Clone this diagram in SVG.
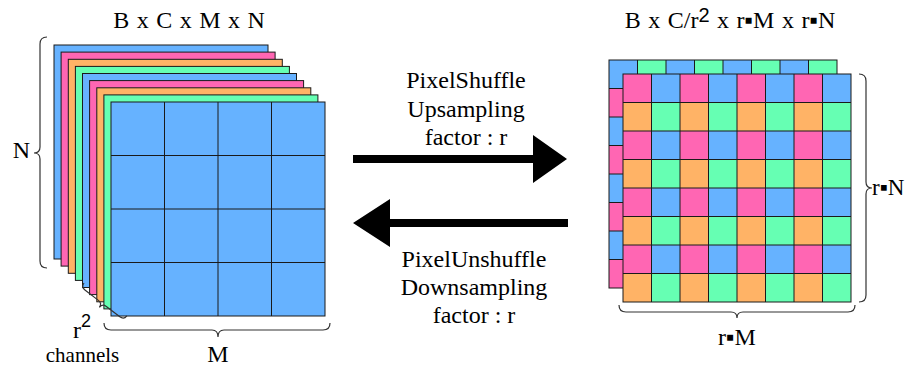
<svg xmlns="http://www.w3.org/2000/svg" width="908" height="366" viewBox="0 0 908 366">
  <style>
    .bl { fill: #66B2FF; }
    .pk { fill: #FF66B3; }
    .or { fill: #FFB366; }
    .gr { fill: #66FFB3; }
    .layer { stroke: #1a1a1a; stroke-width: 1; }
    .grid { fill: none; stroke: #1a1a1a; stroke-width: 1; }
    .brace { fill: none; stroke: #333; stroke-width: 1.2; }
    text { font-family: 'Liberation Serif', 'DejaVu Serif', 'Times New Roman', serif; fill: #000; }
    .sans { font-family: 'Liberation Sans', Arial, sans-serif; }
    .title { font-size: 24px; word-spacing: 1.5px; }
    .arrow { fill: #000; }
  </style>
  <defs>
    <!-- 2x2 checker tiles for the upsampled feature maps -->
    <pattern id="frontTile" patternUnits="userSpaceOnUse" x="623" y="74" width="57" height="57">
      <rect class="pk" x="0" y="0" width="28.5" height="28.5"/>
      <rect class="bl" x="28.5" y="0" width="28.5" height="28.5"/>
      <rect class="or" x="0" y="28.5" width="28.5" height="28.5"/>
      <rect class="gr" x="28.5" y="28.5" width="28.5" height="28.5"/>
    </pattern>
    <pattern id="backTile" patternUnits="userSpaceOnUse" x="609" y="60" width="57" height="57">
      <rect class="bl" x="0" y="0" width="28.5" height="28.5"/>
      <rect class="gr" x="28.5" y="0" width="28.5" height="28.5"/>
      <rect class="pk" x="0" y="28.5" width="28.5" height="28.5"/>
      <rect class="or" x="28.5" y="28.5" width="28.5" height="28.5"/>
    </pattern>
  </defs>

  <!-- input tensor: r^2 stacked channels of size M x N -->
  <g id="input-stack">
    <rect class="bl layer" x="54" y="45" width="214" height="214"/>
    <rect class="pk layer" x="61.1" y="52.1" width="214" height="214"/>
    <rect class="or layer" x="68.3" y="59.3" width="214" height="214"/>
    <rect class="gr layer" x="75.4" y="66.4" width="214" height="214"/>
    <rect class="bl layer" x="82.5" y="73.5" width="214" height="214"/>
    <rect class="pk layer" x="89.6" y="80.6" width="214" height="214"/>
    <rect class="or layer" x="96.8" y="87.8" width="214" height="214"/>
    <rect class="gr layer" x="103.9" y="94.9" width="214" height="214"/>
    <rect class="bl layer" x="111" y="102" width="214" height="214"/>
    <path class="grid" d="M164.5,102V316M218,102V316M271.5,102V316M111,155.5H325M111,209H325M111,262.5H325"/>
  </g>

  <!-- output tensor: one channel group of size rM x rN -->
  <g id="output-grid">
    <rect x="609" y="60" width="228" height="228" fill="url(#backTile)" class="layer"/>
    <path class="grid" d="M637.5,60V288M666,60V288M694.5,60V288M723,60V288M751.5,60V288M780,60V288M808.5,60V288M609,88.5H837M609,117H837M609,145.5H837M609,174H837M609,202.5H837M609,231H837M609,259.5H837"/>
    <rect x="623" y="74" width="228" height="228" fill="url(#frontTile)" class="layer"/>
    <path class="grid" d="M651.5,74V302M680,74V302M708.5,74V302M737,74V302M765.5,74V302M794,74V302M822.5,74V302M623,102.5H851M623,131H851M623,159.5H851M623,188H851M623,216.5H851M623,245H851M623,273.5H851"/>
  </g>

  <!-- dimension braces -->
  <g id="braces">
    <path class="brace" d="M47,37Q40,37 40,44L40,147Q40,153 34,153Q40,153 40,159L40,261Q40,268 47,268"/>
    <path class="brace" d="M104,323Q104,330 111,330L212,330Q218,330 218,337Q218,330 224,330L323,330Q330,330 330,323"/>
    <path class="brace" transform="translate(84,283) rotate(37.5)" d="M0,0Q0,5 5,5L22,5Q27,5 27,10Q27,5 32,5L49,5Q54,5 54,0"/>
    <path class="brace" d="M859,74Q866,74 866,81L866,182Q866,188 872,188Q866,188 866,194L866,295Q866,302 859,302"/>
    <path class="brace" d="M619,305Q619,312 626,312L731,312Q737,312 737,318Q737,312 743,312L848,312Q855,312 855,305"/>
  </g>

  <!-- transform arrows -->
  <g id="connectors">
    <path id="shuffle-arrow" class="arrow" d="M353,155L533,155L533,135L567,159L533,183L533,163L353,163Z"/>
    <path id="unshuffle-arrow" class="arrow" d="M568,219L390,219L390,199L353,223L390,247L390,227L568,227Z"/>
  </g>

  <!-- labels -->
  <g id="labels">
    <text class="title" x="189" y="28" text-anchor="middle">B x C x M x N</text>
    <text class="title" x="730" y="28" text-anchor="middle">B x C/r<tspan class="sans" font-size="20" dy="-6">2</tspan><tspan dy="6"> x r▪M x r▪N</tspan></text>
    <text x="21.5" y="158" font-size="24" text-anchor="middle">N</text>
    <text x="218" y="362" font-size="24" text-anchor="middle">M</text>
    <text x="73" y="338" font-size="24">r<tspan class="sans" font-size="18" dy="-11">2</tspan></text>
    <text x="82.5" y="362" font-size="21" text-anchor="middle">channels</text>
    <text x="737" y="345" font-size="24" text-anchor="middle">r▪M</text>
    <text x="872" y="195" font-size="23">r▪N</text>
    <text x="466" y="88" font-size="24" text-anchor="middle">PixelShuffle</text>
    <text x="466" y="117" font-size="24" text-anchor="middle">Upsampling</text>
    <text x="466" y="145" font-size="24" text-anchor="middle">factor : r</text>
    <text x="474" y="267" font-size="24" text-anchor="middle">PixelUnshuffle</text>
    <text x="474" y="295" font-size="24" text-anchor="middle">Downsampling</text>
    <text x="474" y="323" font-size="24" text-anchor="middle">factor : r</text>
  </g>
</svg>
